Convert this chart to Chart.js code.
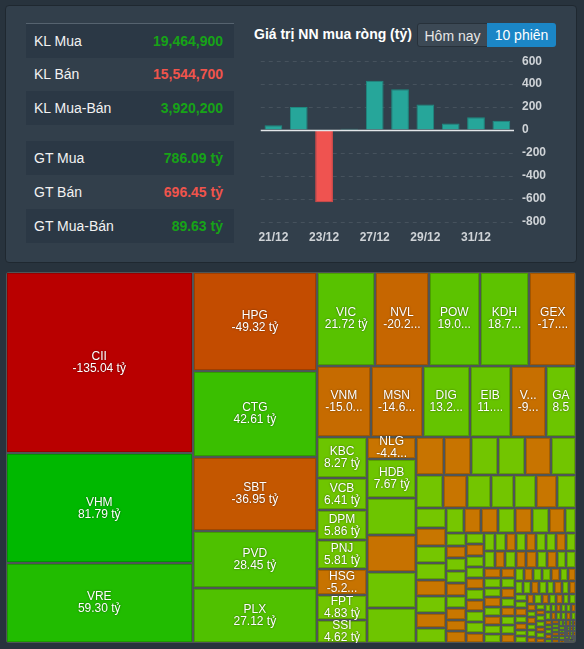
<!DOCTYPE html>
<html>
<head>
<meta charset="utf-8">
<script src="https://cdn.jsdelivr.net/npm/chart.js@4.4.1/dist/chart.umd.min.js"></script>
<style>
  body { margin: 0; width: 584px; height: 649px; overflow: hidden; position: relative;
         background: #28333d; font-family: "Liberation Sans", Arial, sans-serif; }
  #panel { position: absolute; left: 5px; top: 5px; width: 572px; height: 258px; box-sizing: border-box;
           background: #323f4b; border: 1px solid #1f2830; border-radius: 4px; }
  .topline { position: absolute; left: 26px; top: 23px; width: 208px; height: 1px; background: #56636f; }
  .row { position: absolute; left: 26px; width: 208px; height: 34px; }
  .row.dark { background: #2b3845; }
  .row .lbl { position: absolute; left: 8px; top: 0; line-height: 34px; font-size: 14px; color: #f2f2f2; }
  .row .val { position: absolute; right: 11px; top: 0; line-height: 34px; font-size: 14px; font-weight: bold; }
  #title { position: absolute; left: 254px; top: 26px; font-size: 14px; font-weight: bold; color: #fff; }
  .btn { position: absolute; top: 23px; height: 24px; line-height: 24px; font-size: 14px; text-align: center; box-sizing: border-box; }
  #b1 { left: 417px; width: 71px; background: #3c4955; color: #e6e6e6; border: 1px solid #27313a; border-radius: 3px 0 0 3px; }
  #b2 { left: 487px; width: 69px; background: #1b86c6; color: #fff; border-radius: 0 3px 3px 0; }
  #bars { position: absolute; left: 250px; top: 46px; }
  #tmwrap { position: absolute; left: 6px; top: 272px; width: 570px; height: 371px; border-radius: 3px; overflow: hidden; }
</style>
</head>
<body>
<div id="panel"></div>
<div class="topline"></div>
<div id="stats"></div>
<div id="title">Giá trị NN mua ròng (tỷ)</div>
<div class="btn" id="b1">Hôm nay</div>
<div class="btn" id="b2">10 phiên</div>
<canvas id="bars" width="310" height="204"></canvas>
<div id="tmwrap"><canvas id="tm" width="570" height="371"></canvas></div>
<script>
// net foreign buying, last 10 sessions (tỷ)
const sessions = ["21/12", "22/12", "23/12", "24/12", "27/12", "28/12", "29/12", "30/12", "31/12", "04/01"];
const netBuy = [43, 202, -629, 12, 430, 355, 222, 58, 112, 81];

// summary table
const statLabels = ["KL Mua", "KL Bán", "KL Mua-Bán", "GT Mua", "GT Bán", "GT Mua-Bán"];
const statValues = ["19,464,900", "15,544,700", "3,920,200", "786.09 tỷ", "696.45 tỷ", "89.63 tỷ"];
const statSigns = [1, -1, 1, 1, -1, 1];

// treemap: net value per stock (tỷ); only the biggest ones carry a label
const tmTickers = ["CII", "VHM", "VRE", "HPG", "CTG", "SBT", "PVD", "PLX",
  "VIC", "NVL", "POW", "KDH", "GEX", "VNM", "MSN", "DIG", "EIB", "VND", "GAS",
  "KBC", "VCB", "DPM", "PNJ", "HSG", "FPT", "SSI", "NLG", "HDB"];
const tmValues = [
  -135.04, 81.79, 59.30, -49.32, 42.61, -36.95, 28.45, 27.12,
  21.72, -20.21, 19.04, 18.72, -17.46, -15.05, -14.63, 13.24, 11.52, -9.85, 8.54,
  8.27, 6.41, 5.86, 5.81, -5.22, 4.83, 4.62, -4.47, 7.67,
  7.3, -7.2, 7.1, 7.0,
  -4.3, -4.2, 4.2, 4.1, -4.0, 3.9,
  3.5, -3.2, 3.1, 3.1, 2.8, -2.8, 2.5,
  2.3, -2.2, 2.0, 2.0, -1.9, 1.9, -1.8, 1.8,
  1.7, -1.7, -1.65, 1.65, -1.6, 1.6, -1.6,
  1.05, 1.02, -1.0, 0.98, 0.97, -0.95, 0.94, -0.93, -0.92,
  -0.9, 0.88, -0.87, 0.86, 0.85, -0.84, 0.83, -0.82, 0.81, 0.8, -0.79, 0.78,
  0.77, -0.76, 0.75, -0.74, 0.74, 0.73, -0.73, 0.72, 0.72, -0.71, 0.71,
  -0.72, -0.7, 0.69, -0.68, 0.67, 0.66, -0.65, 0.64, 0.63, -0.62, 0.61, -0.6, 0.59, 0.58,
  -0.56, 0.55, -0.54, 0.53, -0.52, 0.51, 0.5, -0.49, 0.48, -0.47, 0.46, 0.45, -0.44, 0.43, -0.42, 0.41,
  0.4, -0.39, 0.38, 0.38, -0.37, 0.36, -0.36, 0.35, 0.34, -0.34, 0.33, -0.32, 0.32, 0.31, -0.3, 0.3, -0.29, 0.28,
  -0.27, 0.27, 0.26, -0.26, 0.25, -0.25, 0.24, 0.24, -0.23, 0.23, -0.22, 0.22, 0.21, -0.21, 0.2, -0.2, 0.19, 0.19, -0.18, 0.18,
  0.17, -0.17, 0.16, -0.16, 0.15, 0.15, -0.14, 0.14, -0.13, 0.13, 0.13, -0.12, 0.12, -0.12, 0.11, 0.11, -0.1, 0.1, -0.1, 0.09, 0.09, -0.09,
  0.08, -0.08, 0.08, 0.07, -0.07, 0.07, -0.07, 0.06, 0.06, -0.06, 0.06, 0.05, -0.05, 0.05, -0.05, 0.05, 0.04, -0.04, 0.04, 0.04, -0.03, 0.03, 0.03, -0.03
];

const FONT = '"Liberation Sans", Arial, sans-serif';

// ---- summary table ----
const rowTops = [24, 57, 91, 141, 175, 209];
let html = "";
statLabels.forEach((label, i) => {
  const dark = i === 0 || i === 2 || i === 3 || i === 5;
  const color = statSigns[i] > 0 ? "#17a317" : "#f0544c";
  html += `<div class="row${dark ? " dark" : ""}" style="top:${rowTops[i]}px">
    <span class="lbl">${label}</span><span class="val" style="color:${color}">${statValues[i]}</span></div>`;
});
document.getElementById("stats").innerHTML = html;

// ---- bar chart ----
const zeroLine = {
  id: "zeroLine",
  afterDatasetsDraw(chart) {
    const { ctx, chartArea } = chart;
    const y = Math.round(chart.scales.y.getPixelForValue(0)) + 0.5;
    ctx.save();
    ctx.strokeStyle = "#e2e5e8";
    ctx.lineWidth = 1.3;
    ctx.beginPath();
    ctx.moveTo(chartArea.left, y);
    ctx.lineTo(chartArea.right, y);
    ctx.stroke();
    ctx.restore();
  },
};

new Chart(document.getElementById("bars"), {
  type: "bar",
  data: {
    labels: sessions,
    datasets: [{
      data: netBuy,
      backgroundColor: netBuy.map((v) => (v < 0 ? "#ef5350" : "#26a69a")),
      borderColor: netBuy.map((v) => (v < 0 ? "#e24b48" : "#1e8a80")),
      borderWidth: 1,
      barPercentage: 0.7,
      categoryPercentage: 1,
    }],
  },
  options: {
    responsive: false,
    animation: false,
    devicePixelRatio: 1,
    layout: { padding: { left: 8, top: 11, right: 0, bottom: 0 } },
    plugins: { legend: { display: false }, tooltip: { enabled: false } },
    scales: {
      x: {
        grid: { display: false, drawTicks: false },
        border: { display: false },
        ticks: {
          color: "#cfd3d7",
          font: { family: FONT, size: 12, weight: "bold" },
          autoSkip: false,
          maxRotation: 0,
          padding: 8,
          callback: (v, i) => (i % 2 === 0 ? sessions[i] : ""),
        },
        afterFit: (s) => { s.height = 28; },
      },
      y: {
        position: "right",
        min: -800,
        max: 600,
        ticks: {
          stepSize: 200,
          color: "#cfd3d7",
          font: { family: FONT, size: 12, weight: "bold" },
          padding: 8,
        },
        grid: {
          color: (c) => (c.tick && c.tick.value === 0 ? "rgba(0,0,0,0)" : "#46525d"),
          drawTicks: false,
        },
        border: { display: false, dash: [4, 4] },
        afterFit: (s) => { s.width = 46; },
      },
    },
  },
  plugins: [zeroLine],
});

// ---- treemap ----
const TM_W = 570, TM_H = 371;

// squarified layout (d3 style), values kept in input order
function squarify(vals, x0, y0, x1, y1) {
  const ratio = (1 + Math.sqrt(5)) / 2;
  const cells = [];
  let value = vals.reduce((a, b) => a + b, 0);
  let i0 = 0, i1 = 0;
  const n = vals.length;
  while (i0 < n) {
    const dx = x1 - x0, dy = y1 - y0;
    let sum = vals[i1++];
    let minV = sum, maxV = sum;
    const alpha = Math.max(dy / dx, dx / dy) / (value * ratio);
    let beta = sum * sum * alpha;
    let minRatio = Math.max(maxV / beta, beta / minV);
    for (; i1 < n; ++i1) {
      const v = vals[i1];
      sum += v;
      if (v < minV) minV = v;
      if (v > maxV) maxV = v;
      beta = sum * sum * alpha;
      const r = Math.max(maxV / beta, beta / minV);
      if (r > minRatio) { sum -= v; break; }
      minRatio = r;
    }
    const last = i1 >= n;
    if (dx < dy) {
      // row across the top
      const h = last ? dy : dy * sum / value;
      let x = x0;
      for (let i = i0; i < i1; i++) {
        const w = dx * vals[i] / sum;
        cells.push({ i, x0: x, y0: y0, x1: x + w, y1: y0 + h });
        x += w;
      }
      y0 += h;
    } else {
      // column on the left
      const w = last ? dx : dx * sum / value;
      let y = y0;
      for (let i = i0; i < i1; i++) {
        const h = dy * vals[i] / sum;
        cells.push({ i, x0: x0, y0: y, x1: x0 + w, y1: y + h });
        y += h;
      }
      x0 += w;
    }
    value -= sum;
    i0 = i1;
  }
  return cells;
}

function cellColor(v) {
  if (v >= 0) {
    const t = Math.min(v / 82, 1);
    return `rgb(${Math.round(120 * (1 - t))},${Math.round(198 - 14 * t)},0)`;
  }
  const t = Math.min(-v / 135, 1);
  return `rgb(${Math.round(200 - 15 * t)},${Math.round(120 * (1 - t))},0)`;
}

function fitText(ctx, text, w) {
  const avail = w - 12.5;
  if (ctx.measureText(text).width <= avail) return text;
  let s = text;
  if (w >= 35) {
    while (s.length > 1 && ctx.measureText(s + "...").width > avail) s = s.slice(0, -1);
    return s + "...";
  }
  while (s.length > 1 && ctx.measureText(s).width > avail) s = s.slice(0, -1);
  return s;
}

const treemapPlugin = {
  id: "treemap",
  beforeDatasetsDraw(chart) {
    const { ctx } = chart;
    const xs = chart.scales.x, ys = chart.scales.y;
    const cells = squarify(tmValues.map(Math.abs), 0, 0, TM_W, TM_H);
    ctx.save();
    cells.forEach((c) => {
      const px0 = Math.round(xs.getPixelForValue(c.x0));
      const px1 = Math.round(xs.getPixelForValue(c.x1));
      const py0 = Math.round(ys.getPixelForValue(c.y0));
      const py1 = Math.round(ys.getPixelForValue(c.y1));
      const w = px1 - px0, h = py1 - py0;
      ctx.fillStyle = cellColor(tmValues[c.i]);
      ctx.fillRect(px0, py0, w, h);
      ctx.strokeStyle = "rgba(0,0,0,0.18)";
      ctx.lineWidth = 1;
      ctx.strokeRect(px0 + 1.5, py0 + 1.5, w - 3, h - 3);
      ctx.strokeStyle = "#4f5557";
      ctx.strokeRect(px0 + 0.5, py0 + 0.5, w - 1, h - 1);
    });
    // labels
    ctx.font = "12px " + FONT;
    ctx.textAlign = "center";
    ctx.textBaseline = "middle";
    ctx.fillStyle = "#ffffff";
    ctx.shadowColor = "rgba(0,0,0,0.55)";
    ctx.shadowBlur = 2;
    cells.forEach((c) => {
      if (c.i >= tmTickers.length) return;
      const px0 = xs.getPixelForValue(c.x0), px1 = xs.getPixelForValue(c.x1);
      const py0 = ys.getPixelForValue(c.y0), py1 = ys.getPixelForValue(c.y1);
      const w = px1 - px0, cx = (px0 + px1) / 2, cy = (py0 + py1) / 2;
      const valText = tmValues[c.i].toFixed(2) + " tỷ";
      ctx.fillText(fitText(ctx, tmTickers[c.i], w), cx, cy - 6);
      ctx.fillText(fitText(ctx, valText, w), cx, cy + 6);
    });
    ctx.restore();
  },
};

new Chart(document.getElementById("tm"), {
  type: "scatter",
  data: { datasets: [{ data: [] }] },
  options: {
    responsive: false,
    animation: false,
    devicePixelRatio: 1,
    layout: { padding: 0 },
    plugins: { legend: { display: false }, tooltip: { enabled: false } },
    scales: {
      x: { type: "linear", min: 0, max: TM_W, display: false },
      y: { type: "linear", min: 0, max: TM_H, reverse: true, display: false },
    },
  },
  plugins: [treemapPlugin],
});
</script>
</body>
</html>
